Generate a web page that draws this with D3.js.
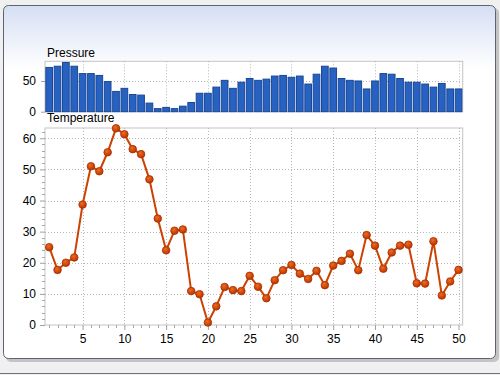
<!DOCTYPE html>
<html>
<head>
<meta charset="utf-8">
<script src="https://cdn.jsdelivr.net/npm/d3@7/dist/d3.min.js"></script>
<style>
  html, body { margin: 0; padding: 0; background: #f0f0f0; }
  svg { display: block; }
  text { font-family: "Liberation Sans", Arial, sans-serif; fill: #000; }
</style>
</head>
<body>
<svg id="chart" width="500" height="375"></svg>
<script>
const xValues = d3.range(1, 51)
const pressure = [72, 74, 80, 74, 62, 62, 59, 49, 33, 38,
  28, 27, 14, 5, 7, 5, 9, 15, 30, 30,
  40, 51, 38, 48, 54, 51, 53, 58, 59, 56,
  58, 45, 61, 74, 71, 54, 51, 50, 37, 50,
  62, 61, 54, 48, 48, 45, 40, 46, 37, 37]
const temperature = [25, 17.7, 20, 21.7, 38.7, 51, 49.4, 55.5, 63.2, 61.3,
  56.5, 54.9, 46.8, 34.2, 24, 30.3, 30.7, 10.9, 9.9, 0.8,
  6, 12.2, 11.2, 10.9, 15.8, 12.3, 8.6, 14.4, 17.6, 19.3,
  16.5, 14.8, 17.4, 12.8, 19.1, 20.6, 22.9, 17.6, 28.9, 25.5,
  18.1, 23.3, 25.5, 25.8, 13.4, 13.3, 26.9, 9.5, 14, 17.7]
const pressureTicks = [0, 50]
const temperatureTicks = [0, 10, 20, 30, 40, 50, 60]
const xTicks = [5, 10, 15, 20, 25, 30, 35, 40, 45, 50]

const svg = d3.select('#chart')
const defs = svg.append('defs')

const bg = defs.append('linearGradient').attr('id', 'bg').attr('x1', 0).attr('y1', 0).attr('x2', 0).attr('y2', 1)
bg.append('stop').attr('offset', '0%').attr('stop-color', '#d5dff3')
bg.append('stop').attr('offset', '18%').attr('stop-color', '#ffffff')
bg.append('stop').attr('offset', '100%').attr('stop-color', '#ffffff')

const dotGrad = defs.append('radialGradient').attr('id', 'dot').attr('cx', '40%').attr('cy', '35%').attr('r', '65%')
dotGrad.append('stop').attr('offset', '0%').attr('stop-color', '#f06a20')
dotGrad.append('stop').attr('offset', '100%').attr('stop-color', '#b83400')

// window bottom border
svg.append('line')
  .attr('x1', 0).attr('x2', 500).attr('y1', 373.5).attr('y2', 373.5)
  .attr('stroke', '#69727d')

// panel shadow and panel
svg.append('rect')
  .attr('x', 6).attr('y', 8).attr('width', 493).attr('height', 354)
  .attr('rx', 5).attr('fill', '#c4c4c4')
svg.append('rect')
  .attr('x', 3.5).attr('y', 5.5).attr('width', 492).attr('height', 353)
  .attr('rx', 5).attr('fill', 'url(#bg)').attr('stroke', '#5b6470')

const left = 45, right = 462.7
const x = d3.scaleLinear().domain([0.5, 50.5]).range([left, right])
const band = x(2) - x(1)

const yP = d3.scaleLinear().domain([0, 82]).range([111.7, 61.3])
const yT = d3.scaleLinear().domain([0, 63.3]).range([325, 128])

function drawFrame(y, ticks) {
  const [bottom, top] = y.range()
  const g = svg.append('g')
  g.append('rect')
    .attr('x', left).attr('y', top).attr('width', right - left).attr('height', bottom - top)
    .attr('fill', '#fff').attr('stroke', '#c4c4c4')
  g.selectAll('.vgrid').data(xTicks).enter().append('line')
    .attr('x1', d => Math.round(x(d)) + 0.5).attr('x2', d => Math.round(x(d)) + 0.5)
    .attr('y1', top).attr('y2', bottom)
    .attr('stroke', '#b8b8b8').attr('stroke-dasharray', '1,2')
  g.selectAll('.hgrid').data(ticks.filter(t => t > 0)).enter().append('line')
    .attr('x1', left).attr('x2', right)
    .attr('y1', d => Math.round(y(d)) + 0.5).attr('y2', d => Math.round(y(d)) + 0.5)
    .attr('stroke', '#b8b8b8').attr('stroke-dasharray', '1,2')
  return g
}

// Pressure panel
drawFrame(yP, pressureTicks)
svg.append('g').selectAll('rect').data(pressure).enter().append('rect')
  .attr('x', (d, i) => x(xValues[i]) - band * 0.4)
  .attr('width', band * 0.8)
  .attr('y', d => yP(d))
  .attr('height', d => yP(0) - yP(d))
  .attr('fill', '#2762c2').attr('stroke', '#1a4794').attr('stroke-width', 1)

const axisP = d3.axisLeft(yP).tickValues(pressureTicks).tickSize(4).tickPadding(5)
const gP = svg.append('g').attr('transform', `translate(${left},0)`).call(axisP)
gP.select('.domain').remove()
gP.selectAll('.tick line').attr('stroke', '#a0a0a0')
gP.selectAll('text').attr('font-size', 12)

svg.append('text').attr('x', 47).attr('y', 57).attr('font-size', 12).text('Pressure')

// Temperature panel
drawFrame(yT, temperatureTicks)

const minorY = d3.range(2, 63, 2).filter(v => v % 10 !== 0)
svg.append('g').selectAll('line').data(minorY).enter().append('line')
  .attr('x1', left - 3).attr('x2', left)
  .attr('y1', d => Math.round(yT(d)) + 0.5).attr('y2', d => Math.round(yT(d)) + 0.5)
  .attr('stroke', '#a8a8a8')

const axisT = d3.axisLeft(yT).tickValues(temperatureTicks).tickSize(5).tickPadding(4)
const gT = svg.append('g').attr('transform', `translate(${left},0)`).call(axisT)
gT.select('.domain').remove()
gT.selectAll('.tick line').attr('stroke', '#a0a0a0')
gT.selectAll('text').attr('font-size', 12)

const minorX = xValues.filter(v => v % 5 !== 0)
svg.append('g').selectAll('line').data(minorX).enter().append('line')
  .attr('x1', d => Math.round(x(d)) + 0.5).attr('x2', d => Math.round(x(d)) + 0.5)
  .attr('y1', yT(0)).attr('y2', yT(0) + 3)
  .attr('stroke', '#a8a8a8')

const axisX = d3.axisBottom(x).tickValues(xTicks).tickSize(5).tickPadding(4)
const gX = svg.append('g').attr('transform', `translate(0,${yT(0)})`).call(axisX)
gX.select('.domain').remove()
gX.selectAll('.tick line').attr('stroke', '#a0a0a0')
gX.selectAll('text').attr('font-size', 12)

svg.append('text').attr('x', 47).attr('y', 122).attr('font-size', 12).text('Temperature')

const line = d3.line()
  .x((d, i) => x(xValues[i]))
  .y(d => yT(d))

svg.append('path')
  .datum(temperature)
  .attr('fill', 'none')
  .attr('stroke', '#cc4200')
  .attr('stroke-width', 2)
  .attr('d', line)

svg.append('g').selectAll('circle').data(temperature).enter().append('circle')
  .attr('cx', (d, i) => x(xValues[i]))
  .attr('cy', d => yT(d))
  .attr('r', 3.8)
  .attr('fill', 'url(#dot)')
  .attr('stroke', '#a83000')
  .attr('stroke-width', 0.8)
</script>
</body>
</html>
